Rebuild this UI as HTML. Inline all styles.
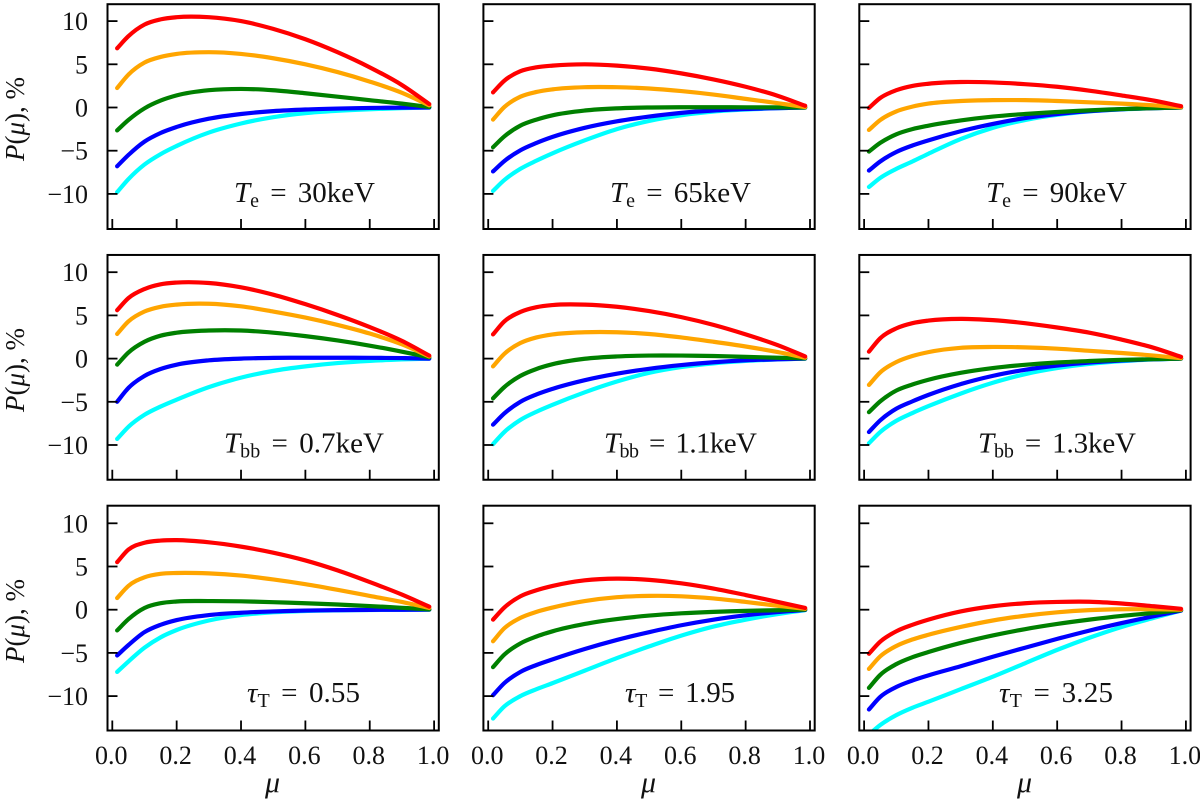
<!DOCTYPE html>
<html lang="en">
<head>
<meta charset="utf-8">
<title>Polarization P(mu) panels</title>
<style>
html,body{margin:0;padding:0;background:#fff;}
svg{display:block;}
text{font-family:"Liberation Serif",serif;fill:#111;}
.tick{font-size:26px;}
.anno{font-size:29px;word-spacing:4px;}
.ttl{font-size:27px;}
.xt{font-size:30px;}
.i{font-style:italic;}
.sub{font-size:20px;}
</style>
</head>
<body>
<svg id="figure" xmlns="http://www.w3.org/2000/svg" width="1200" height="800" viewBox="0 0 1200 800">
<g id="marks"></g>
<g>
<text class="ttl" transform="translate(24,119) rotate(-90)" text-anchor="middle"><tspan class="i">P</tspan>(<tspan class="i">μ</tspan>), %</text>
<text class="ttl" transform="translate(24,370) rotate(-90)" text-anchor="middle"><tspan class="i">P</tspan>(<tspan class="i">μ</tspan>), %</text>
<text class="ttl" transform="translate(24,621) rotate(-90)" text-anchor="middle"><tspan class="i">P</tspan>(<tspan class="i">μ</tspan>), %</text>
</g>
<g>
<text class="xt i" x="272.5" y="792" text-anchor="middle">μ</text>
<text class="xt i" x="648.5" y="792" text-anchor="middle">μ</text>
<text class="xt i" x="1024.5" y="792" text-anchor="middle">μ</text>
</g>
<g>
<text class="anno" x="234" y="202" textLength="141"><tspan class="i">T</tspan><tspan class="sub" dy="5">e</tspan><tspan dy="-5"> = 30keV</tspan></text>
<text class="anno" x="610" y="202" textLength="141"><tspan class="i">T</tspan><tspan class="sub" dy="5">e</tspan><tspan dy="-5"> = 65keV</tspan></text>
<text class="anno" x="986" y="202" textLength="141"><tspan class="i">T</tspan><tspan class="sub" dy="5">e</tspan><tspan dy="-5"> = 90keV</tspan></text>
<text class="anno" x="224" y="452.5" textLength="160"><tspan class="i">T</tspan><tspan class="sub" dy="5">bb</tspan><tspan dy="-5"> = 0.7keV</tspan></text>
<text class="anno" x="604" y="452.5" textLength="153"><tspan class="i">T</tspan><tspan class="sub" dy="5">bb</tspan><tspan dy="-5"> = 1.1keV</tspan></text>
<text class="anno" x="978" y="452.5" textLength="158"><tspan class="i">T</tspan><tspan class="sub" dy="5">bb</tspan><tspan dy="-5"> = 1.3keV</tspan></text>
<text class="anno" x="247" y="702" textLength="113"><tspan class="i">τ</tspan><tspan class="sub" dy="5">T</tspan><tspan dy="-5"> = 0.55</tspan></text>
<text class="anno" x="625" y="702" textLength="110"><tspan class="i">τ</tspan><tspan class="sub" dy="5">T</tspan><tspan dy="-5"> = 1.95</tspan></text>
<text class="anno" x="999" y="702" textLength="114"><tspan class="i">τ</tspan><tspan class="sub" dy="5">T</tspan><tspan dy="-5"> = 3.25</tspan></text>
</g>
</svg>
<script>
// Shared sample positions along the x axis
const mu = [0.015,0.05,0.1,0.15,0.2,0.3,0.4,0.5,0.6,0.7,0.8,0.9,0.985];
const xTickValues = [0,0.2,0.4,0.6,0.8,1];
const xTickLabels = ["0.0","0.2","0.4","0.6","0.8","1.0"];
const yTickValues = [10,5,0,-5,-10];
const yTickLabels = ["10","5","0","\u22125","\u221210"];
const seriesNames = ["cyan","blue","green","orange","red"];

// Te = 30 keV
const te30Red = [6.85,8.25,9.6,10.2,10.45,10.45,10.0,9.1,7.9,6.4,4.65,2.6,0.4];
const te30Orange = [2.25,3.8,5.2,5.85,6.2,6.4,6.2,5.7,5.0,4.1,3.0,1.7,0.25];
const te30Green = [-2.65,-1.45,-0.1,0.8,1.4,2.0,2.15,2.0,1.65,1.25,0.85,0.45,0.05];
const te30Blue = [-6.8,-5.5,-3.95,-2.95,-2.25,-1.3,-0.75,-0.42,-0.23,-0.12,-0.05,-0.02,0];
const te30Cyan = [-9.8,-8.3,-6.6,-5.4,-4.45,-2.9,-1.85,-1.12,-0.65,-0.38,-0.2,-0.08,0];
// Te = 65 keV
const te65Red = [1.75,3.1,4.2,4.65,4.85,5.0,4.85,4.5,3.95,3.25,2.4,1.35,0.2];
const te65Orange = [-1.4,0.05,1.25,1.8,2.1,2.35,2.35,2.2,1.9,1.5,1.0,0.5,0.05];
const te65Green = [-4.6,-3.35,-2.1,-1.4,-0.9,-0.35,-0.1,0,0.03,0.03,0.02,0.01,0];
const te65Blue = [-7.4,-6.2,-4.95,-4.1,-3.4,-2.35,-1.6,-1.05,-0.62,-0.35,-0.18,-0.07,0];
const te65Cyan = [-9.65,-8.4,-7.1,-6.15,-5.3,-3.8,-2.5,-1.55,-0.9,-0.47,-0.23,-0.08,0];
// Te = 90 keV
const te90Red = [-0.05,1.1,2.0,2.5,2.75,2.95,2.9,2.7,2.4,1.95,1.4,0.8,0.15];
const te90Orange = [-2.6,-1.45,-0.45,0.1,0.45,0.75,0.85,0.85,0.75,0.6,0.45,0.25,0.03];
const te90Green = [-5.1,-4.1,-3.1,-2.5,-2.1,-1.5,-1.05,-0.75,-0.52,-0.33,-0.18,-0.07,0];
const te90Blue = [-7.3,-6.25,-5.15,-4.4,-3.8,-2.75,-1.9,-1.22,-0.75,-0.42,-0.2,-0.08,0];
const te90Cyan = [-9.2,-8.15,-7.1,-6.25,-5.35,-3.65,-2.35,-1.45,-0.85,-0.45,-0.22,-0.08,0];
// Tbb = 0.7 keV
const tbb07Red = [5.6,7.0,8.05,8.6,8.8,8.75,8.25,7.4,6.3,5.05,3.65,2.05,0.35];
const tbb07Orange = [2.85,4.3,5.45,6.0,6.25,6.35,6.05,5.45,4.75,3.9,2.9,1.65,0.25];
const tbb07Green = [-0.7,0.7,1.95,2.65,3.0,3.25,3.25,3.0,2.6,2.1,1.5,0.8,0.15];
const tbb07Blue = [-5.0,-3.4,-2.0,-1.2,-0.7,-0.2,0,0.08,0.1,0.1,0.09,0.06,0];
const tbb07Cyan = [-9.3,-7.9,-6.5,-5.55,-4.75,-3.3,-2.2,-1.42,-0.9,-0.52,-0.27,-0.1,0];
// Tbb = 1.1 keV
const tbb11Red = [2.8,4.3,5.4,5.95,6.2,6.25,6.0,5.5,4.8,3.9,2.8,1.55,0.25];
const tbb11Orange = [-0.9,0.55,1.8,2.45,2.8,3.05,3.05,2.85,2.45,1.95,1.4,0.75,0.1];
const tbb11Green = [-4.6,-3.3,-2.0,-1.2,-0.65,-0.02,0.25,0.35,0.35,0.3,0.2,0.1,0.03];
const tbb11Blue = [-7.65,-6.35,-5.0,-4.15,-3.5,-2.5,-1.75,-1.18,-0.75,-0.42,-0.2,-0.08,0];
const tbb11Cyan = [-9.9,-8.5,-7.1,-6.15,-5.35,-3.9,-2.65,-1.65,-0.98,-0.55,-0.27,-0.1,0];
// Tbb = 1.3 keV
const tbb13Red = [0.8,2.35,3.5,4.1,4.4,4.6,4.45,4.1,3.6,3.0,2.2,1.25,0.2];
const tbb13Orange = [-3.05,-1.6,-0.4,0.3,0.75,1.25,1.35,1.3,1.15,0.9,0.65,0.35,0.05];
const tbb13Green = [-6.2,-4.95,-3.7,-3.0,-2.45,-1.65,-1.1,-0.72,-0.45,-0.28,-0.15,-0.07,0];
const tbb13Blue = [-8.5,-7.15,-5.8,-4.95,-4.2,-2.95,-2.0,-1.3,-0.8,-0.45,-0.22,-0.08,0];
const tbb13Cyan = [-9.8,-8.5,-7.2,-6.3,-5.5,-4.05,-2.8,-1.8,-1.1,-0.62,-0.3,-0.1,0];
// tau = 0.55
const tau055Red = [5.5,6.95,7.75,8.0,8.05,7.8,7.3,6.6,5.7,4.55,3.2,1.75,0.35];
const tau055Orange = [1.35,2.75,3.75,4.15,4.25,4.2,3.95,3.5,2.95,2.3,1.6,0.9,0.2];
const tau055Green = [-2.4,-1.1,0.2,0.75,0.95,1.0,0.97,0.87,0.75,0.6,0.42,0.22,0.03];
const tau055Blue = [-5.3,-4.1,-2.6,-1.75,-1.2,-0.62,-0.35,-0.2,-0.1,-0.05,-0.02,-0.01,0];
const tau055Cyan = [-7.2,-6.0,-4.4,-3.2,-2.35,-1.25,-0.62,-0.3,-0.15,-0.08,-0.04,-0.01,0];
// tau = 1.95
const tau195Red = [-1.15,0.25,1.55,2.25,2.75,3.4,3.6,3.45,3.05,2.45,1.7,0.9,0.2];
const tau195Orange = [-3.65,-2.15,-0.95,-0.25,0.25,1.0,1.45,1.6,1.55,1.3,0.9,0.45,0.1];
const tau195Green = [-6.65,-5.2,-3.9,-3.1,-2.5,-1.65,-1.08,-0.68,-0.42,-0.25,-0.14,-0.06,0];
const tau195Blue = [-9.9,-8.5,-7.2,-6.4,-5.75,-4.55,-3.5,-2.6,-1.8,-1.15,-0.65,-0.27,-0.03];
const tau195Cyan = [-12.6,-11.2,-10.0,-9.2,-8.5,-7.05,-5.6,-4.25,-3.0,-1.95,-1.15,-0.5,-0.05];
// tau = 3.25
const tau325Red = [-5.1,-3.7,-2.5,-1.75,-1.15,-0.2,0.4,0.75,0.9,0.92,0.72,0.4,0.1];
const tau325Orange = [-6.85,-5.4,-4.2,-3.45,-2.9,-2.0,-1.25,-0.7,-0.3,-0.05,0.05,0.05,0];
const tau325Green = [-9.05,-7.55,-6.3,-5.5,-4.9,-3.85,-2.98,-2.25,-1.65,-1.15,-0.72,-0.37,-0.05];
const tau325Blue = [-11.55,-10.1,-8.95,-8.2,-7.6,-6.55,-5.45,-4.4,-3.38,-2.42,-1.55,-0.75,-0.1];
const tau325Cyan = [-14.45,-13.35,-12.2,-11.35,-10.65,-9.2,-7.75,-6.2,-4.65,-3.25,-2.0,-0.95,-0.1];

const panelSeries = [
  [te30Cyan,te30Blue,te30Green,te30Orange,te30Red],
  [te65Cyan,te65Blue,te65Green,te65Orange,te65Red],
  [te90Cyan,te90Blue,te90Green,te90Orange,te90Red],
  [tbb07Cyan,tbb07Blue,tbb07Green,tbb07Orange,tbb07Red],
  [tbb11Cyan,tbb11Blue,tbb11Green,tbb11Orange,tbb11Red],
  [tbb13Cyan,tbb13Blue,tbb13Green,tbb13Orange,tbb13Red],
  [tau055Cyan,tau055Blue,tau055Green,tau055Orange,tau055Red],
  [tau195Cyan,tau195Blue,tau195Green,tau195Orange,tau195Red],
  [tau325Cyan,tau325Blue,tau325Green,tau325Orange,tau325Red]
];

const NS = "http://www.w3.org/2000/svg";
const marks = document.getElementById("marks");
const seriesColor = {cyan:"#00ffff",blue:"#0000ff",green:"#008000",orange:"#ffa500",red:"#ff0000"};
const boxW = 331.3, boxH = 224.8;
const colLeft = c => 107.5 + 375.9 * c;
const rowTop = r => 4.2 + 250.75 * r;
const xPos = (c, v) => colLeft(c) + 4.8 + 321.8 * v;
const yPos = (r, v) => 107.5 + 251.1 * r - 8.64 * v;

function mk(tag, attrs, parent) {
  const el = document.createElementNS(NS, tag);
  for (const k in attrs) el.setAttribute(k, attrs[k]);
  parent.appendChild(el);
  return el;
}

function curvePath(xs, ys) {
  const n = xs.length, m = [];
  for (let i = 0; i < n; i++) {
    if (i === 0) m.push((ys[1] - ys[0]) / (xs[1] - xs[0]));
    else if (i === n - 1) m.push((ys[n-1] - ys[n-2]) / (xs[n-1] - xs[n-2]));
    else {
      const d0 = (ys[i] - ys[i-1]) / (xs[i] - xs[i-1]);
      const d1 = (ys[i+1] - ys[i]) / (xs[i+1] - xs[i]);
      const h0 = xs[i] - xs[i-1], h1 = xs[i+1] - xs[i];
      m.push((d0 * h1 + d1 * h0) / (h0 + h1));
    }
  }
  let d = "M" + xs[0].toFixed(2) + " " + ys[0].toFixed(2);
  for (let i = 0; i < n - 1; i++) {
    const h = (xs[i+1] - xs[i]) / 3;
    d += "C" + (xs[i] + h).toFixed(2) + " " + (ys[i] + m[i] * h).toFixed(2) + " " +
         (xs[i+1] - h).toFixed(2) + " " + (ys[i+1] - m[i+1] * h).toFixed(2) + " " +
         xs[i+1].toFixed(2) + " " + ys[i+1].toFixed(2);
  }
  return d;
}

panelSeries.forEach((series, p) => {
  const c = p % 3, r = Math.floor(p / 3);
  const L = colLeft(c), T = rowTop(r);
  const g = mk("g", {}, marks);
  
  

  const clipId = "clip" + p;
  const defs = mk("defs", {}, g);
  const cp = mk("clipPath", {id: clipId}, defs);
  mk("rect", {x: L, y: T, width: boxW, height: boxH}, cp);

  const lines = mk("g", {"clip-path": "url(#" + clipId + ")"}, g);
  series.forEach((vals, s) => {
    const xs = mu.map(v => xPos(c, v));
    const ys = vals.map(v => yPos(r, v));
    const line = mk("path", {d: curvePath(xs, ys), fill: "none", stroke: seriesColor[seriesNames[s]], "stroke-width": 4.2, "stroke-linecap": "round", "stroke-linejoin": "round"}, lines);
    
    
  });

  const frame = mk("rect", {x: L, y: T, width: boxW, height: boxH, fill: "none", stroke: "#000", "stroke-width": 2}, g);
  
  

  xTickValues.forEach((v, i) => {
    const x = xPos(c, v);
    const t = mk("line", {x1: x, x2: x, y1: T + boxH, y2: T + boxH - 10, stroke: "#000", "stroke-width": 1.8}, g);
    
    
    if (r === 2) {
      const lab = mk("text", {x: x - 1, y: 764, "text-anchor": "middle", "class": "tick"}, g);
      
      
      lab.textContent = xTickLabels[i];
    }
  });

  yTickValues.forEach((v, i) => {
    const y = yPos(r, v);
    const t = mk("line", {x1: L, x2: L + 10, y1: y, y2: y, stroke: "#000", "stroke-width": 1.8}, g);
    
    
    if (c === 0) {
      const lab = mk("text", {x: 88, y: y + 9, "text-anchor": "end", "class": "tick"}, g);
      
      
      lab.textContent = yTickLabels[i];
    }
  });
});
</script>
</body>
</html>
